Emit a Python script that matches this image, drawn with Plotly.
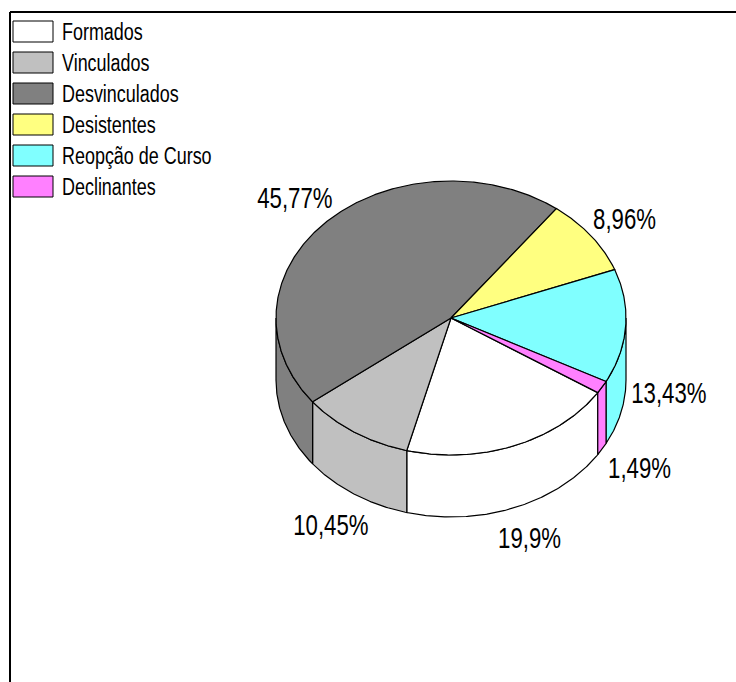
import numpy as np
import plotly.graph_objects as go

categories = ["Formados", "Vinculados", "Desvinculados", "Desistentes", "Reopção de Curso", "Declinantes"]
shares = [19.9, 10.45, 45.77, 8.96, 13.43, 1.49]
share_labels = ["19,9%", "10,45%", "45,77%", "8,96%", "13,43%", "1,49%"]

# styling / layout (pixel space of the page)
colors = ["#FFFFFF", "#C0C0C0", "#808080", "#FFFF80", "#80FFFF", "#FF80FF"]
W, H = 736, 682
CX, CY, RX, RY, DEPTH = 451, 318, 175, 137, 62
START = -57.0
LABEL_CENTERS = [(529, 537), (331, 524), (295, 197), (624, 218), (669, 392), (639, 467)]
FONT = "Liberation Sans, Arial, sans-serif"
LEGEND_SIZE, LEGEND_SQUEEZE = 23, 0.78
LABEL_SIZE, LABEL_SQUEEZE = 30, 0.74


def rim(a0, a1, dy=0.0):
    n = max(2, int(abs(a1 - a0)) * 2 + 2)
    t = np.radians(np.linspace(a0, a1, n))
    return CX - RX * np.sin(t), CY + dy + RY * np.cos(t)


def add_poly(x, y, color, name):
    fig.add_trace(go.Scatter(
        x=list(x) + [x[0]], y=list(y) + [y[0]], mode="lines", fill="toself",
        fillcolor=color, line=dict(color="black", width=1.2),
        hoverinfo="skip", showlegend=False, name=name))


fig = go.Figure()

edges = START + np.concatenate([[0], np.cumsum(shares)]) * 3.6 / (sum(shares) / 100)

# outer walls: only the front half (-90..90 from the bottom of the ellipse)
for i, cat in enumerate(categories):
    for k in (0, 360, -360):
        a0 = max(edges[i] + k, -90)
        a1 = min(edges[i + 1] + k, 90)
        if a1 > a0:
            xt, yt = rim(a0, a1)
            xb, yb = rim(a1, a0, DEPTH)
            add_poly(np.concatenate([xt, xb]), np.concatenate([yt, yb]), colors[i], cat)

# top faces
for i, cat in enumerate(categories):
    xt, yt = rim(edges[i], edges[i + 1])
    add_poly(np.concatenate([[CX], xt]), np.concatenate([[CY], yt]), colors[i], cat)

annotations = []
shapes = [
    dict(type="line", xref="x", yref="y", x0=10, x1=W, y0=12, y1=12, line=dict(color="black", width=2)),
    dict(type="line", xref="x", yref="y", x0=10, x1=10, y0=12, y1=H, line=dict(color="black", width=2)),
]
for i, cat in enumerate(categories):
    top = 21 + 31 * i
    shapes.append(dict(type="rect", xref="x", yref="y", x0=13, x1=53, y0=top, y1=top + 21,
                       fillcolor=colors[i], line=dict(color="black", width=1)))
    annotations.append(dict(x=60, y=top + 11, xref="x", yref="y", text=cat, showarrow=False, align="left",
                            xanchor="left", yanchor="middle",
                            font=dict(family=FONT, size=LEGEND_SIZE, color="black")))

for (lx, ly), txt in zip(LABEL_CENTERS, share_labels):
    annotations.append(dict(x=lx, y=ly, xref="x", yref="y", text=txt, showarrow=False,
                            xanchor="center", yanchor="middle",
                            font=dict(family=FONT, size=LABEL_SIZE, color="black")))

fig.update_layout(
    width=W, height=H, margin=dict(l=0, r=0, t=0, b=0),
    paper_bgcolor="white", plot_bgcolor="white", showlegend=False,
    xaxis=dict(range=[0, W], visible=False, fixedrange=True),
    yaxis=dict(range=[H, 0], visible=False, fixedrange=True),
    shapes=shapes, annotations=annotations,
)

# The reference type is a tall, tight sans: squeeze the real text horizontally.
squeeze_js = """
document.body.style.margin='0';document.body.style.overflow='hidden';
document.querySelectorAll('text.annotation-text').forEach(function(t){
  var big = parseFloat(getComputedStyle(t).fontSize) > %d;
  var k = big ? %f : %f;
  t.setAttribute('textLength', t.getComputedTextLength()*k);
  t.setAttribute('lengthAdjust','spacingAndGlyphs');
});
""" % (LEGEND_SIZE + 1, LABEL_SQUEEZE, LEGEND_SQUEEZE)
fig.write_html("out.html", config={"displayModeBar": False}, post_script=squeeze_js)
